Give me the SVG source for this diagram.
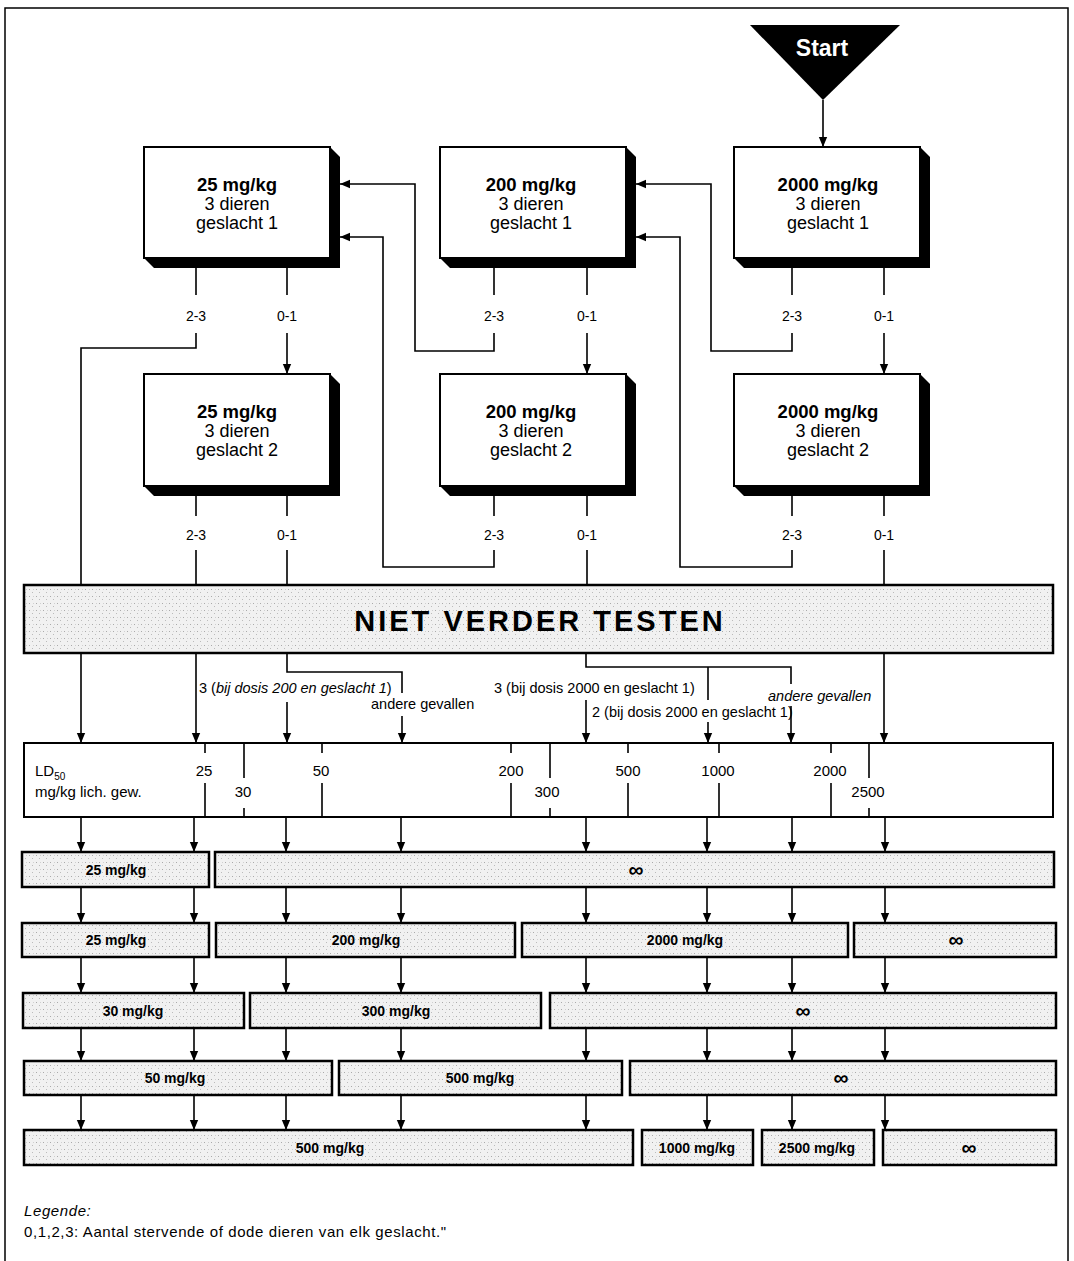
<svg xmlns="http://www.w3.org/2000/svg" width="1074" height="1261" viewBox="0 0 1074 1261">
<style>
text{font-family:"Liberation Sans",Arial,sans-serif;fill:#000}
.bt{font-size:18.5px;font-weight:bold;text-anchor:middle}
.rt{font-size:18px;text-anchor:middle}
.lb{font-size:14px;text-anchor:middle}
.br{font-size:14.5px}
.sc{font-size:15px;text-anchor:middle}
.bar{fill:url(#stip);stroke:#000;stroke-width:2.5}
.barT{font-size:14px;font-weight:bold;text-anchor:middle}
.inf{font-size:21px;font-weight:bold;text-anchor:middle}
.face{fill:#fff;stroke:#000;stroke-width:2}
.shd{fill:#000}
.ln{fill:none;stroke:#000;stroke-width:1.6}
.ar{fill:none;stroke:#000;stroke-width:1.6;marker-end:url(#ah)}
.tk{stroke:#000;stroke-width:1.6}
.leg{font-size:15px;letter-spacing:0.6px}
</style>
<defs>
<marker id="ah" markerUnits="userSpaceOnUse" markerWidth="10" markerHeight="12" refX="12" refY="5" orient="auto" viewBox="0 0 12 10">
<path d="M0,0 L12,5 L0,10 z" fill="#000"/>
</marker>
<pattern id="stip" width="7" height="7" patternUnits="userSpaceOnUse">
<rect width="7" height="7" fill="#f1f1f1"/>
<rect x="1" y="1" width="1" height="1" fill="#aaa"/>
<rect x="4" y="4" width="1" height="1" fill="#bbb"/>
<rect x="5" y="1" width="1" height="1" fill="#d0d0d0"/>
</pattern>
</defs>
<rect x="5" y="8" width="1063" height="1270" fill="#fff" stroke="#000" stroke-width="1.5"/>

<g id="start">
<polygon points="750,25 900,25 823,100" fill="#000"/>
<text x="822" y="56" style="font-size:23px;font-weight:bold;fill:#fff;text-anchor:middle">Start</text>
</g>

<g id="box-25-1">
<polygon class="shd" points="330,147 340,157 340,268 154,268 144,258"/>
<rect class="face" x="144" y="147" width="186" height="111"/>
<text class="bt" x="237" y="191">25 mg/kg</text>
<text class="rt" x="237" y="210">3 dieren</text>
<text class="rt" x="237" y="229">geslacht 1</text>
</g>
<g id="box-200-1">
<polygon class="shd" points="626,147 636,157 636,268 450,268 440,258"/>
<rect class="face" x="440" y="147" width="186" height="111"/>
<text class="bt" x="531" y="191">200 mg/kg</text>
<text class="rt" x="531" y="210">3 dieren</text>
<text class="rt" x="531" y="229">geslacht 1</text>
</g>
<g id="box-2000-1">
<polygon class="shd" points="920,147 930,157 930,268 744,268 734,258"/>
<rect class="face" x="734" y="147" width="186" height="111"/>
<text class="bt" x="828" y="191">2000 mg/kg</text>
<text class="rt" x="828" y="210">3 dieren</text>
<text class="rt" x="828" y="229">geslacht 1</text>
</g>
<g id="box-25-2">
<polygon class="shd" points="330,374 340,384 340,496 154,496 144,486"/>
<rect class="face" x="144" y="374" width="186" height="112"/>
<text class="bt" x="237" y="418">25 mg/kg</text>
<text class="rt" x="237" y="437">3 dieren</text>
<text class="rt" x="237" y="456">geslacht 2</text>
</g>
<g id="box-200-2">
<polygon class="shd" points="626,374 636,384 636,496 450,496 440,486"/>
<rect class="face" x="440" y="374" width="186" height="112"/>
<text class="bt" x="531" y="418">200 mg/kg</text>
<text class="rt" x="531" y="437">3 dieren</text>
<text class="rt" x="531" y="456">geslacht 2</text>
</g>
<g id="box-2000-2">
<polygon class="shd" points="920,374 930,384 930,496 744,496 734,486"/>
<rect class="face" x="734" y="374" width="186" height="112"/>
<text class="bt" x="828" y="418">2000 mg/kg</text>
<text class="rt" x="828" y="437">3 dieren</text>
<text class="rt" x="828" y="456">geslacht 2</text>
</g>

<g id="niet-verder">
<rect class="bar" x="24" y="585" width="1029" height="68"/>
<text x="540" y="631" style="font-size:29px;font-weight:900;text-anchor:middle;letter-spacing:3px">NIET VERDER TESTEN</text>
</g>

<g id="ld50">
<rect x="24" y="743" width="1029" height="74" fill="#fff" stroke="#000" stroke-width="2"/>
<text x="35" y="776" style="font-size:15px">LD<tspan style="font-size:10px" dy="4">50</tspan></text>
<text x="35" y="797" style="font-size:15px">mg/kg lich. gew.</text>
<g class="sc">
<text x="204" y="776">25</text>
<text x="243" y="797">30</text>
<text x="321" y="776">50</text>
<text x="511" y="776">200</text>
<text x="547" y="797">300</text>
<text x="628" y="776">500</text>
<text x="718" y="776">1000</text>
<text x="830" y="776">2000</text>
<text x="868" y="797">2500</text>
</g>
<path class="tk" d="M205,743V753M205,783V817M244,743V778M244,808V817M322,743V753M322,783V817M511,743V753M511,783V817M550,743V778M550,808V817M628,743V753M628,783V817M719,743V753M719,783V817M831,743V753M831,783V817M869,743V778M869,808V817"/>
</g>

<g id="bars">
<rect class="bar" x="22" y="852" width="187" height="35"/><text class="barT" x="116" y="875">25 mg/kg</text>
<rect class="bar" x="215" y="852" width="839" height="35"/><text class="inf" x="636" y="877">∞</text>

<rect class="bar" x="22" y="923" width="187" height="34"/><text class="barT" x="116" y="945">25 mg/kg</text>
<rect class="bar" x="216" y="923" width="299" height="34"/><text class="barT" x="366" y="945">200 mg/kg</text>
<rect class="bar" x="522" y="923" width="326" height="34"/><text class="barT" x="685" y="945">2000 mg/kg</text>
<rect class="bar" x="854" y="923" width="202" height="34"/><text class="inf" x="956" y="947">∞</text>

<rect class="bar" x="23" y="993" width="221" height="35"/><text class="barT" x="133" y="1016">30 mg/kg</text>
<rect class="bar" x="250" y="993" width="291" height="35"/><text class="barT" x="396" y="1016">300 mg/kg</text>
<rect class="bar" x="550" y="993" width="506" height="35"/><text class="inf" x="803" y="1018">∞</text>

<rect class="bar" x="24" y="1061" width="308" height="34"/><text class="barT" x="175" y="1083">50 mg/kg</text>
<rect class="bar" x="339" y="1061" width="283" height="34"/><text class="barT" x="480" y="1083">500 mg/kg</text>
<rect class="bar" x="630" y="1061" width="426" height="34"/><text class="inf" x="841" y="1085">∞</text>

<rect class="bar" x="24" y="1130" width="609" height="35"/><text class="barT" x="330" y="1153">500 mg/kg</text>
<rect class="bar" x="642" y="1130" width="111" height="35"/><text class="barT" x="697" y="1153">1000 mg/kg</text>
<rect class="bar" x="762" y="1130" width="112" height="35"/><text class="barT" x="817" y="1153">2500 mg/kg</text>
<rect class="bar" x="883" y="1130" width="173" height="35"/><text class="inf" x="969" y="1155">∞</text>
</g>

<g id="connectors">
<path class="ar" d="M823,100V147"/>
<path class="ln" d="M196,268V295M287,268V295M494,268V295M587,268V295M792,268V295M884,268V295"/>
<path class="ln" d="M196,333V348H81V585"/>
<path class="ar" d="M287,333V374"/>
<path class="ar" d="M494,333V351H415V184H340"/>
<path class="ar" d="M587,333V374"/>
<path class="ar" d="M792,333V351H711V184H636"/>
<path class="ar" d="M884,333V374"/>
<path class="ln" d="M196,496V516M287,496V516M494,496V516M587,496V516M792,496V516M884,496V516"/>
<path class="ln" d="M196,550V585M287,550V585M587,550V585M884,550V585"/>
<path class="ar" d="M494,550V567H383V237H340"/>
<path class="ar" d="M792,550V567H680V237H636"/>

<path class="ar" d="M81,653V743"/>
<path class="ar" d="M196,653V743"/>
<path class="ln" d="M287,653V672H402V693"/>
<path class="ar" d="M287,702V743"/>
<path class="ar" d="M402,716V743"/>
<path class="ln" d="M586,653V667H791V684"/>
<path class="ln" d="M708,667V700"/>
<path class="ar" d="M586,700V743"/>
<path class="ar" d="M708,722V743"/>
<path class="ar" d="M791,706V743"/>
<path class="ar" d="M884,653V743"/>

<path class="ar" d="M81,817V852"/><path class="ar" d="M194,817V852"/><path class="ar" d="M286,817V852"/><path class="ar" d="M401,817V852"/>
<path class="ar" d="M586,817V852"/><path class="ar" d="M707,817V852"/><path class="ar" d="M792,817V852"/><path class="ar" d="M885,817V852"/>

<path class="ar" d="M81,887V923"/><path class="ar" d="M194,887V923"/><path class="ar" d="M286,887V923"/><path class="ar" d="M401,887V923"/>
<path class="ar" d="M586,887V923"/><path class="ar" d="M707,887V923"/><path class="ar" d="M792,887V923"/><path class="ar" d="M885,887V923"/>

<path class="ar" d="M81,957V993"/><path class="ar" d="M194,957V993"/><path class="ar" d="M286,957V993"/><path class="ar" d="M401,957V993"/>
<path class="ar" d="M586,957V993"/><path class="ar" d="M707,957V993"/><path class="ar" d="M792,957V993"/><path class="ar" d="M885,957V993"/>

<path class="ar" d="M81,1028V1061"/><path class="ar" d="M194,1028V1061"/><path class="ar" d="M286,1028V1061"/><path class="ar" d="M401,1028V1061"/>
<path class="ar" d="M586,1028V1061"/><path class="ar" d="M707,1028V1061"/><path class="ar" d="M792,1028V1061"/><path class="ar" d="M885,1028V1061"/>

<path class="ar" d="M81,1095V1130"/><path class="ar" d="M194,1095V1130"/><path class="ar" d="M286,1095V1130"/><path class="ar" d="M401,1095V1130"/>
<path class="ar" d="M586,1095V1130"/><path class="ar" d="M707,1095V1130"/><path class="ar" d="M792,1095V1130"/><path class="ar" d="M885,1095V1130"/>
</g>

<g id="labels">
<text class="lb" x="196" y="321">2-3</text><text class="lb" x="287" y="321">0-1</text>
<text class="lb" x="494" y="321">2-3</text><text class="lb" x="587" y="321">0-1</text>
<text class="lb" x="792" y="321">2-3</text><text class="lb" x="884" y="321">0-1</text>
<text class="lb" x="196" y="540">2-3</text><text class="lb" x="287" y="540">0-1</text>
<text class="lb" x="494" y="540">2-3</text><text class="lb" x="587" y="540">0-1</text>
<text class="lb" x="792" y="540">2-3</text><text class="lb" x="884" y="540">0-1</text>
<text class="br" x="199" y="693">3 (<tspan font-style="italic">bij dosis 200 en geslacht 1</tspan>)</text>
<text class="br" x="371" y="709">andere gevallen</text>
<text class="br" x="494" y="693">3 (bij dosis 2000 en geslacht 1)</text>
<text class="br" x="592" y="717">2 (bij dosis 2000 en geslacht 1)</text>
<text class="br" x="768" y="701" font-style="italic">andere gevallen</text>
</g>

<g id="legend">
<text class="leg" x="24" y="1216" font-style="italic">Legende:</text>
<text class="leg" x="24" y="1237">0,1,2,3: Aantal stervende of dode dieren van elk geslacht."</text>
</g>
</svg>
